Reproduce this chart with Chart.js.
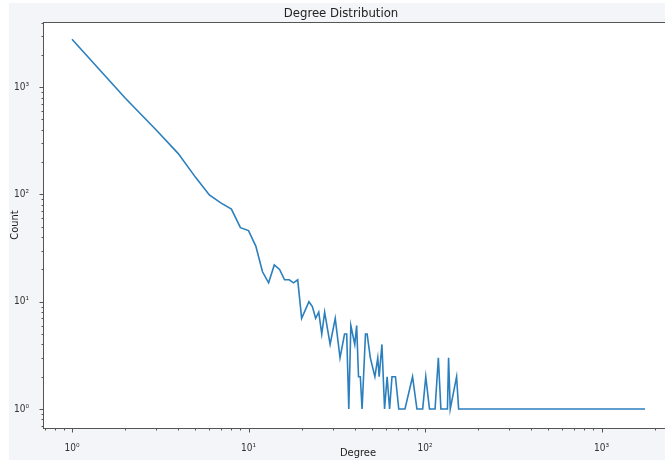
<!DOCTYPE html>
<html>
<head>
<meta charset="utf-8">
<script src="https://cdn.jsdelivr.net/npm/chart.js@4/dist/chart.umd.min.js"></script>
<style>
  html, body { margin: 0; padding: 0; background: #ffffff; width: 665px; height: 460px; overflow: hidden; }
  #wrap { position: absolute; left: 9px; top: 3px; width: 681px; height: 457px; background: #f4f5f9; }
  canvas { display: block; }
</style>
</head>
<body>
<div id="wrap"><canvas id="c" width="681" height="457"></canvas></div>
<script>
// ---- data ----
const degrees = [1, 2, 3, 4, 5, 6, 7, 8, 9, 10, 11, 12, 13, 14, 15, 16, 17, 18, 19, 20,
  22, 23, 24, 25, 26, 27, 29, 31, 33, 35, 36, 37, 38, 40, 41, 42, 43, 44, 46, 47, 49,
  52, 54, 55, 57, 59, 61, 63, 65, 67, 68, 71, 77, 85, 90, 97, 101, 106, 114, 119, 123,
  134, 136, 139, 151, 155, 1764];
const counts = [2790, 791, 398, 240, 145, 99, 83, 73, 49, 46, 33, 19, 15, 22, 20, 16, 16, 15, 16, 7,
  10, 9, 7, 8, 5, 8, 4, 7, 3, 5, 5, 1, 6, 4, 6, 2, 2, 1, 5, 5, 3,
  2, 3, 2, 4, 1, 2, 1, 2, 2, 2, 1, 1, 2, 1, 1, 2, 1, 1, 3, 1,
  1, 3, 1, 2, 1, 1];

// ---- tick labels ----
const majorTickValues = [1, 10, 100, 1000];
const majorTickLabels = ['10\u2070', '10\u00B9', '10\u00B2', '10\u00B3'];
const minorMultipliers = [2, 3, 4, 5, 6, 7, 8, 9];

const titleText = 'Degree Distribution';
const xTitle = 'Degree';
const yTitle = 'Count';

const allTickValues = [];
[0.1].concat(majorTickValues).forEach(m => {
  allTickValues.push(m);
  minorMultipliers.forEach(k => allTickValues.push(+(m * k).toPrecision(3)));
});

const points = degrees.map((d, i) => ({ x: d, y: counts[i] }));

const FONT = "'Liberation Sans Narrow', 'DejaVu Sans Condensed', 'Liberation Sans', sans-serif";
const FRAME = '#555555';

function buildTicks(scale) {
  scale.ticks = allTickValues
    .filter(v => v >= scale.min && v <= scale.max)
    .map(v => ({ value: v, major: majorTickValues.includes(v) }));
}
function tickLabel(value) {
  const i = majorTickValues.indexOf(value);
  return i >= 0 ? majorTickLabels[i] : '';
}

const framePlugin = {
  id: 'frame',
  beforeDraw(chart) {
    const { ctx, chartArea: a } = chart;
    ctx.save();
    ctx.fillStyle = '#ffffff';
    ctx.fillRect(a.left, a.top, a.right - a.left, a.bottom - a.top);
    ctx.restore();
  },
  afterDraw(chart) {
    const { ctx, chartArea: a } = chart;
    ctx.save();
    ctx.strokeStyle = FRAME;
    ctx.lineWidth = 1;
    ctx.strokeRect(Math.round(a.left) + 0.5, Math.round(a.top) + 0.5,
      Math.round(a.right - a.left), Math.round(a.bottom - a.top));
    // tick marks
    const xs = chart.scales.x, ys = chart.scales.y;
    ctx.beginPath();
    xs.ticks.forEach(t => {
      const p = Math.round(xs.getPixelForValue(t.value)) + 0.5;
      const len = majorTickValues.includes(t.value) ? 4 : 2;
      const b = Math.round(a.bottom) + 0.5;
      ctx.moveTo(p, b);
      ctx.lineTo(p, b + len);
    });
    ys.ticks.forEach(t => {
      const p = Math.round(ys.getPixelForValue(t.value)) + 0.5;
      const len = majorTickValues.includes(t.value) ? 4 : 2;
      const l = Math.round(a.left) + 0.5;
      ctx.moveTo(l, p);
      ctx.lineTo(l - len, p);
    });
    ctx.stroke();
    ctx.restore();
  }
};

new Chart(document.getElementById('c'), {
  type: 'scatter',
  data: {
    datasets: [{
      label: 'Count',
      data: points,
      showLine: true,
      borderColor: '#2b7fbd',
      backgroundColor: '#2b7fbd',
      borderWidth: 1.6,
      pointRadius: 0,
      tension: 0
    }]
  },
  options: {
    responsive: false,
    animation: false,
    devicePixelRatio: 1,
    layout: { padding: { left: 0, right: 17, top: 0, bottom: 0 } },
    plugins: {
      legend: { display: false },
      tooltip: { enabled: false },
      title: {
        display: true,
        text: titleText,
        color: '#222222',
        font: { family: FONT, size: 13, weight: 'normal' },
        padding: { top: 3, bottom: 0.4 }
      }
    },
    scales: {
      x: {
        type: 'logarithmic',
        min: Math.pow(10, -0.1643),
        max: Math.pow(10, 3.405),
        afterBuildTicks: buildTicks,
        afterFit(scale) { scale.height = 32; },
        grid: { display: false },
        border: { display: false },
        ticks: {
          autoSkip: false,
          maxRotation: 0,
          padding: 6,
          color: '#333333',
          font: { family: FONT, size: 10 },
          callback: tickLabel
        },
        title: {
          display: true,
          text: xTitle,
          color: '#222222',
          font: { family: FONT, size: 11 },
          padding: { top: 0, bottom: 0 }
        }
      },
      y: {
        type: 'logarithmic',
        min: Math.pow(10, -0.177),
        max: Math.pow(10, 3.607),
        afterBuildTicks: buildTicks,
        afterFit(scale) { scale.width = 34; },
        grid: { display: false },
        border: { display: false },
        ticks: {
          autoSkip: false,
          padding: 6,
          color: '#333333',
          font: { family: FONT, size: 10 },
          callback: tickLabel
        },
        title: {
          display: true,
          text: yTitle,
          color: '#222222',
          font: { family: FONT, size: 11 },
          padding: { top: 0, bottom: 0 }
        }
      }
    }
  },
  plugins: [framePlugin]
});
</script>
</body>
</html>
